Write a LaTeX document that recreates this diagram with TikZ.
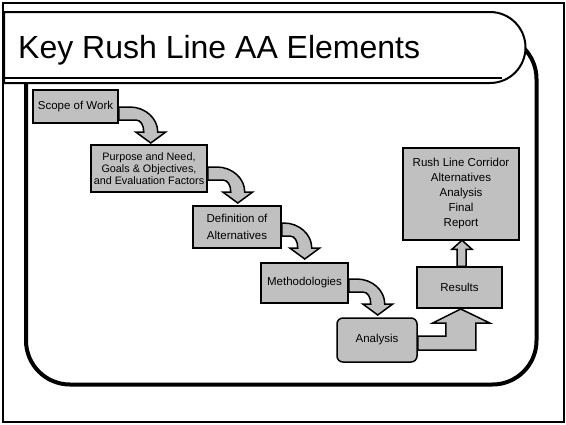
\documentclass[tikz,border=0pt]{standalone}
\usepackage{fontspec}
\setmainfont{Liberation Sans}
\usetikzlibrary{calc}
\definecolor{boxgray}{HTML}{C0C0C0}
\tikzset{
  box/.style={draw=black, fill=boxgray, line width=1.5pt, inner sep=1pt, align=center,
    font=\fontsize{11.5}{14}\selectfont},
  arr/.style={draw=black, fill=boxgray, line width=1.5pt, line join=miter},
  frameline/.style={draw=black, line width=2pt},
}
\newcommand{\uturnarrow}[3]{%
  \begin{scope}[shift={($(#1.east)+(0,#2)$)}]
    \draw[arr] (0,0) -- ({#3-21},0) .. controls ({#3-5.6},0) and ({#3+7},11.25) .. ({#3+7},25)
      -- ({#3+15},25) -- (#3,36) -- ({#3-15},25) -- ({#3-7},25)
      .. controls ({#3-7},18) and ({#3-10},13) .. ({#3-15},13) -- (0,13) -- cycle;
  \end{scope}}
\begin{document}
\begin{tikzpicture}[x=1pt,y=-1pt]
\useasboundingbox (0,0) rectangle (566,424);
% outer frame
\draw[frameline] (3,3) rectangle (564,422);
% body rounded panel
\draw[line width=4pt, rounded corners=44pt] (26,35) rectangle (536.5,384.5);
% title banner
\draw[frameline, fill=white] (4,12) -- (490,12) arc[start angle=-90, end angle=90, radius=35.5] -- (4,83) -- cycle;
\draw[frameline] (4,77.5) -- (502,77.5);
\node[anchor=base west, inner sep=0, font=\fontsize{32}{38}\selectfont] (title) at (18,58) {Key Rush Line AA Elements};

% boxes
\node[box, minimum width=85pt, minimum height=33pt] (scope) at (75.5,106.5) {Scope of Work};
\node[box, minimum width=116pt, minimum height=47pt, font=\fontsize{10.8}{11.7}\selectfont] (purpose) at (149,168.5) {Purpose and Need,\\Goals \& Objectives,\\and Evaluation Factors};
\node[box, minimum width=88pt, minimum height=42pt, font=\fontsize{11.5}{16.5}\selectfont] (defn) at (237,227) {Definition of\\Alternatives};
\node[box, minimum width=87pt, minimum height=40pt] (meth) at (304.5,283) {Methodologies};
\node[box, minimum width=80pt, minimum height=44pt, rounded corners=6pt] (analysis) at (377,340) {Analysis};
\node[box, minimum width=85pt, minimum height=41pt] (results) at (459.5,287.5) {Results};
\node[box, minimum width=116pt, minimum height=92pt, font=\fontsize{11.5}{15}\selectfont] (final) at (461,194) {Rush Line Corridor\\Alternatives\\Analysis\\Final\\Report};

% u-turn arrows
\uturnarrow{scope}{0.5}{32}
\uturnarrow{purpose}{-1.5}{30}
\uturnarrow{defn}{-4}{23}
\uturnarrow{meth}{-4}{29}

% bent-up arrow analysis -> results
\begin{scope}[shift={(analysis.east)}]
  \draw[arr] (0,-4) -- (28,-4) -- (28,-17) -- (15,-17) -- (43,-31) -- (72,-17) -- (58,-17) -- (58,10) -- (0,10) -- cycle;
\end{scope}
% up arrow results -> final
\begin{scope}[shift={(results.north)}]
  \draw[arr] (-2.5,0) -- (-2.5,-17) -- (-7.5,-17) -- (2.5,-26) -- (12.5,-17) -- (6.5,-17) -- (6.5,0) -- cycle;
\end{scope}
\end{tikzpicture}
\end{document}
